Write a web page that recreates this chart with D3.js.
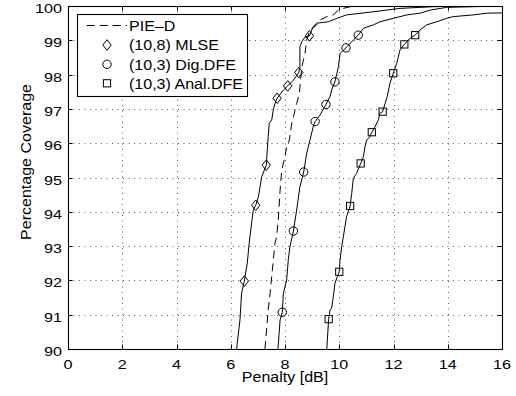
<!DOCTYPE html>
<html>
<head>
<meta charset="utf-8">
<script src="https://cdn.jsdelivr.net/npm/d3@7"></script>
<style>
  body { margin: 0; background: #fff; }
  svg { display: block; }
</style>
</head>
<body>
<div id="chart"></div>
<script>
// curves: penalty [dB] vs. percentage coverage
const pieX = [7.26, 7.33, 7.38, 7.45, 7.51, 7.57, 7.63, 7.69, 7.75, 7.82, 7.88, 8.00, 8.06, 8.16, 8.25, 8.31, 8.43, 8.53, 8.62, 8.74, 8.80, 8.92, 9.17, 9.29, 9.54, 9.78, 9.97, 10.15, 10.40, 11.5, 16];
const pieY = [90.0, 90.65, 91.14, 91.62, 92.11, 92.59, 93.08, 93.27, 93.76, 94.64, 95.22, 95.61, 95.90, 96.09, 96.58, 96.77, 97.16, 97.45, 98.23, 98.62, 99.01, 99.30, 99.45, 99.59, 99.69, 99.74, 99.88, 99.93, 99.98, 100, 100];

const mlseX = [6.22, 6.24, 6.34, 6.40, 6.50, 6.61, 6.68, 6.77, 6.83, 6.92, 7.02, 7.08, 7.14, 7.31, 7.38, 7.42, 7.51, 7.57, 7.63, 7.71, 7.94, 8.10, 8.31, 8.51, 8.55, 8.55, 8.62, 8.74, 8.90, 9.04, 9.17, 9.60, 9.91, 10.27, 11.24, 12.24, 13.46, 14.8, 16];
const mlseY = [90.0, 90.17, 90.85, 91.63, 91.98, 92.51, 93.09, 93.67, 94.05, 94.19, 94.44, 94.73, 95.02, 95.36, 96.19, 96.58, 96.68, 96.97, 97.16, 97.31, 97.55, 97.67, 97.84, 98.06, 98.23, 98.81, 98.96, 99.10, 99.13, 99.40, 99.50, 99.54, 99.64, 99.74, 99.83, 99.93, 99.98, 100, 100];

const digX = [7.74, 7.82, 7.90, 7.94, 8.06, 8.12, 8.18, 8.31, 8.43, 8.55, 8.69, 8.80, 8.92, 9.04, 9.11, 9.29, 9.51, 9.66, 9.72, 9.84, 9.97, 10.03, 10.25, 10.52, 10.70, 10.89, 11.26, 11.50, 11.99, 12.49, 12.98, 13.35, 13.96, 14.93, 16];
const digY = [90.0, 90.85, 91.07, 91.62, 92.01, 92.59, 92.98, 93.44, 94.05, 94.73, 95.16, 95.71, 96.09, 96.48, 96.63, 96.82, 97.13, 97.36, 97.55, 97.79, 98.23, 98.62, 98.78, 99.01, 99.15, 99.35, 99.45, 99.54, 99.64, 99.74, 99.79, 99.88, 99.96, 99.98, 100];

const analX = [9.54, 9.61, 9.66, 9.72, 9.78, 9.84, 9.93, 10.00, 10.03, 10.09, 10.15, 10.21, 10.27, 10.40, 10.46, 10.52, 10.64, 10.79, 10.89, 10.95, 11.01, 11.13, 11.20, 11.32, 11.44, 11.50, 11.60, 11.69, 11.77, 11.87, 11.99, 12.12, 12.24, 12.40, 12.61, 12.80, 12.98, 13.22, 13.59, 13.96, 14.20, 14.94, 15.44, 16];
const analY = [90.0, 90.87, 91.14, 91.19, 91.52, 91.92, 92.11, 92.25, 92.59, 92.98, 93.27, 93.57, 93.86, 94.17, 94.54, 94.98, 95.12, 95.41, 95.61, 95.90, 96.09, 96.19, 96.32, 96.48, 96.68, 96.87, 96.92, 97.16, 97.36, 97.75, 98.04, 98.33, 98.72, 98.88, 99.06, 99.15, 99.30, 99.45, 99.54, 99.64, 99.69, 99.74, 99.79, 99.80];

// marker positions
const mlseMkX = [6.50, 6.92, 7.31, 7.71, 8.10, 8.51, 8.90];
const mlseMkY = [91.98, 94.19, 95.36, 97.31, 97.67, 98.06, 99.13];
const digMkX = [7.90, 8.31, 8.69, 9.11, 9.51, 9.84, 10.25, 10.70];
const digMkY = [91.07, 93.44, 95.16, 96.63, 97.13, 97.79, 98.78, 99.15];
const analMkX = [9.61, 10.00, 10.40, 10.79, 11.20, 11.60, 11.99, 12.40, 12.80];
const analMkY = [90.87, 92.25, 94.17, 95.41, 96.32, 96.92, 98.04, 98.88, 99.15];

const xTicks = [0, 2, 4, 6, 8, 10, 12, 14, 16];
const yTicks = [90, 91, 92, 93, 94, 95, 96, 97, 98, 99, 100];
const legendLabels = ['PIE\u2013D', '(10,8) MLSE', '(10,3) Dig.DFE', '(10,3) Anal.DFE'];
const legendMarks = ['dash', 'diamond', 'circle', 'square'];

const W = 516, H = 396;
const mLeft = 68, mRight = 502, mTop = 6, mBottom = 349;
const font = 'Liberation Sans, Arial, Helvetica, sans-serif';

const svg = d3.select('#chart')
  .append('svg')
  .attr('width', W)
  .attr('height', H);

const x = d3.scaleLinear().domain([0, 16]).range([mLeft, mRight]);
const y = d3.scaleLinear().domain([90, 100]).range([mBottom, mTop]);

// text helper: slightly widened glyphs like the reference
function label(g, str, tx, ty, size, sx, anchor, rot) {
  return g.append('text')
    .attr('transform', `translate(${tx},${ty}) rotate(${rot || 0}) scale(${sx},1)`)
    .attr('text-anchor', anchor)
    .attr('font-family', font)
    .attr('font-size', size)
    .attr('fill', '#000')
    .text(str);
}

svg.append('clipPath').attr('id', 'plot')
  .append('rect')
  .attr('x', mLeft).attr('y', mTop)
  .attr('width', mRight - mLeft).attr('height', mBottom - mTop);

// dotted grid
const grid = svg.append('g');
grid.selectAll('.gx')
  .data(xTicks.slice(1, -1))
  .enter().append('line')
  .attr('x1', d => Math.round(x(d)) + 0.5).attr('x2', d => Math.round(x(d)) + 0.5)
  .attr('y1', mTop).attr('y2', mBottom)
  .attr('stroke', '#333').attr('stroke-width', 0.8)
  .attr('stroke-dasharray', '1,4.5');
grid.selectAll('.gy')
  .data(yTicks.slice(1, -1))
  .enter().append('line')
  .attr('y1', d => Math.round(y(d)) + 0.5).attr('y2', d => Math.round(y(d)) + 0.5)
  .attr('x1', mLeft).attr('x2', mRight)
  .attr('stroke', '#333').attr('stroke-width', 0.8)
  .attr('stroke-dasharray', '1,4.5');

// curves
const line = d3.line()
  .x(d => x(d[0]))
  .y(d => y(d[1]));

const curves = svg.append('g').attr('clip-path', 'url(#plot)');

function drawCurve(xs, ys, dashed) {
  curves.append('path')
    .datum(d3.zip(xs, ys))
    .attr('fill', 'none')
    .attr('stroke', '#000')
    .attr('stroke-width', 1)
    .attr('stroke-dasharray', dashed ? '8,5' : null)
    .attr('d', line);
}

drawCurve(mlseX, mlseY, false);
drawCurve(digX, digY, false);
drawCurve(analX, analY, false);
drawCurve(pieX, pieY, true);

function marker(g, kind, cx, cy) {
  if (kind === 'diamond') {
    g.append('path')
      .attr('d', `M${cx},${cy - 5.3}L${cx + 4.2},${cy}L${cx},${cy + 5.3}L${cx - 4.2},${cy}Z`)
      .attr('fill', 'none').attr('stroke', '#000').attr('stroke-width', 1);
  } else if (kind === 'circle') {
    g.append('circle')
      .attr('cx', cx).attr('cy', cy).attr('r', 4.2)
      .attr('fill', 'none').attr('stroke', '#000').attr('stroke-width', 1);
  } else if (kind === 'square') {
    g.append('rect')
      .attr('x', cx - 3.6).attr('y', cy - 3.6)
      .attr('width', 7.2).attr('height', 7.2)
      .attr('fill', 'none').attr('stroke', '#000').attr('stroke-width', 1);
  }
}

const marks = svg.append('g');
mlseMkX.forEach((d, i) => marker(marks, 'diamond', x(d), y(mlseMkY[i])));
digMkX.forEach((d, i) => marker(marks, 'circle', x(d), y(digMkY[i])));
analMkX.forEach((d, i) => marker(marks, 'square', x(d), y(analMkY[i])));

// frame and inward ticks on all sides
const frame = svg.append('g');
frame.append('rect')
  .attr('x', mLeft + 0.5).attr('y', mTop + 0.5)
  .attr('width', mRight - mLeft).attr('height', mBottom - mTop)
  .attr('fill', 'none').attr('stroke', '#000').attr('stroke-width', 1.1);

xTicks.forEach(d => {
  const px = Math.round(x(d)) + 0.5;
  frame.append('line').attr('x1', px).attr('x2', px)
    .attr('y1', mBottom).attr('y2', mBottom - 4.5).attr('stroke', '#000');
  frame.append('line').attr('x1', px).attr('x2', px)
    .attr('y1', mTop).attr('y2', mTop + 4.5).attr('stroke', '#000');
  label(frame, d, x(d), 369, 13.5, 1.2, 'middle');
});
yTicks.forEach(d => {
  const py = Math.round(y(d)) + 0.5;
  frame.append('line').attr('y1', py).attr('y2', py)
    .attr('x1', mLeft).attr('x2', mLeft + 4.5).attr('stroke', '#000');
  frame.append('line').attr('y1', py).attr('y2', py)
    .attr('x1', mRight).attr('x2', mRight - 4.5).attr('stroke', '#000');
  label(frame, d, 62, y(d) + 7, 13.5, 1.2, 'end');
});

// axis titles
label(svg, 'Penalty [dB]', (mLeft + mRight) / 2, 381.5, 15, 1.07, 'middle');
label(svg, 'Percentage Coverage', 31, 162, 15, 1.07, 'middle', -90);

// legend
const legend = svg.append('g');
legend.append('rect')
  .attr('x', 77.5).attr('y', 14.5)
  .attr('width', 170).attr('height', 82)
  .attr('fill', '#fff').attr('stroke', '#000').attr('stroke-width', 1.1);

const rowY = [25.5, 45, 64.3, 83.3];
legendLabels.forEach((t, i) => {
  const ry = rowY[i];
  if (legendMarks[i] === 'dash') {
    legend.append('line')
      .attr('x1', 86.7).attr('x2', 127).attr('y1', ry).attr('y2', ry)
      .attr('stroke', '#000').attr('stroke-width', 1)
      .attr('stroke-dasharray', '8,5');
  } else {
    marker(legend, legendMarks[i], 107, ry);
  }
  label(legend, t, 129, ry + 5.4, 15, 1.07, 'start');
});
</script>
</body>
</html>
